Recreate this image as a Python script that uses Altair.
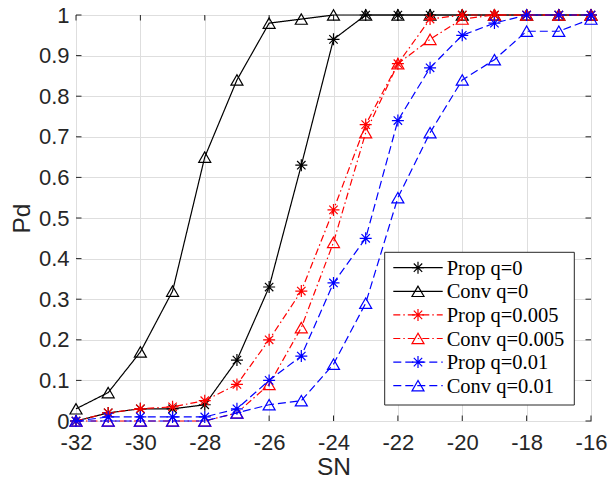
import altair as alt
import pandas as pd

# ---------------- data ----------------
sn = list(range(-32, -15))  # -32 ... -16

prop_q0 = [0, 0.02, 0.03, 0.03, 0.04, 0.15, 0.33, 0.63, 0.94, 1, 1, 1, 1, 1, 1, 1, 1]
conv_q0 = [0.03, 0.07, 0.17, 0.32, 0.65, 0.84, 0.98, 0.99, 1, 1, 1, 1, 1, 1, 1, 1, 1]
prop_q005 = [0, 0.02, 0.03, 0.035, 0.05, 0.09, 0.20, 0.32, 0.52, 0.73, 0.88, 0.99, 1, 1, 1, 1, 1]
conv_q005 = [0, 0, 0, 0, 0, 0.02, 0.09, 0.23, 0.44, 0.71, 0.88, 0.94, 0.99, 1, 1, 1, 1]
prop_q01 = [0, 0.01, 0.01, 0.01, 0.01, 0.03, 0.10, 0.16, 0.34, 0.45, 0.74, 0.87, 0.95, 0.98, 1, 1, 1]
conv_q01 = [0, 0, 0, 0, 0, 0.02, 0.04, 0.05, 0.14, 0.29, 0.55, 0.71, 0.84, 0.89, 0.96, 0.96, 0.99]

series_names = ["Prop q=0", "Conv q=0", "Prop q=0.005", "Conv q=0.005", "Prop q=0.01", "Conv q=0.01"]
series_values = [prop_q0, conv_q0, prop_q005, conv_q005, prop_q01, conv_q01]

x_ticks = [-32, -30, -28, -26, -24, -22, -20, -18, -16]
y_ticks = [0, 0.1, 0.2, 0.3, 0.4, 0.5, 0.6, 0.7, 0.8, 0.9, 1]

# ---------------- styles ----------------
STAR = "M0,-1L0,1M-1,0L1,0M-0.7,-0.7L0.7,0.7M-0.7,0.7L0.7,-0.7"
colors = ["#000000", "#000000", "#ff0000", "#ff0000", "#0000ff", "#0000ff"]
dashes = [[1, 0], [1, 0], [7, 3, 1.5, 3], [7, 3, 1.5, 3], [8, 4], [8, 4]]
shapes = [STAR, "triangle-up", STAR, "triangle-up", STAR, "triangle-up"]

W, H = 515, 406
AX = "#262626"
TICK_FONT = "Liberation Sans"
LEG_FONT = "Liberation Serif"

xscale = alt.Scale(domain=[-32, -16], nice=False, zero=False)
yscale = alt.Scale(domain=[0, 1], nice=False, zero=False)

layers = []

# base layer carrying axes and grid
frame_df = pd.DataFrame({"sn": sn, "pd": prop_q0})
axes_layer = alt.Chart(frame_df).mark_point(opacity=0).encode(
    x=alt.X("sn:Q", scale=xscale,
            axis=alt.Axis(values=x_ticks, title="SN", grid=True, ticks=False, domain=False,
                          labelExpr="'' + datum.value", labelFlush=False, labelOverlap=False,
                          labelFontSize=22, titleFontSize=24.5, labelFont=TICK_FONT,
                          titleFont=TICK_FONT, labelColor=AX, titleColor=AX,
                          labelPadding=11, titlePadding=2, titleFontWeight="normal",
                          gridColor="#dedede", gridWidth=1)),
    y=alt.Y("pd:Q", scale=yscale,
            axis=alt.Axis(values=y_ticks, title="Pd", grid=True, ticks=False, domain=False,
                          labelExpr="'' + datum.value", labelFlush=False, labelOverlap=False,
                          labelFontSize=22, titleFontSize=24.5,
                          labelFont=TICK_FONT, titleFont=TICK_FONT, labelColor=AX,
                          titleColor=AX, labelPadding=7, titlePadding=4,
                          titleFontWeight="normal", gridColor="#dedede", gridWidth=1)),
)
layers.append(axes_layer)

# inward ticks (box style)
ydf = pd.DataFrame({"v": y_ticks})
xdf = pd.DataFrame({"v": x_ticks})
tl = 5.5
for xa, xb in [(0, tl), (W - tl, W)]:
    layers.append(alt.Chart(ydf).mark_rule(color=AX, strokeWidth=1).encode(
        y=alt.Y("v:Q", scale=yscale), x=alt.value(xa), x2=alt.value(xb)))
for ya, yb in [(H - tl, H), (0, tl)]:
    layers.append(alt.Chart(xdf).mark_rule(color=AX, strokeWidth=1).encode(
        x=alt.X("v:Q", scale=xscale), y=alt.value(ya), y2=alt.value(yb)))

# data series
for name, vals, c, d, s in zip(series_names, series_values, colors, dashes, shapes):
    df = pd.DataFrame({"sn": sn, "pd": vals, "series": name})
    layers.append(alt.Chart(df).mark_line(color=c, strokeDash=d, strokeWidth=1.2, clip=False).encode(
        x=alt.X("sn:Q", scale=xscale), y=alt.Y("pd:Q", scale=yscale)))
    layers.append(alt.Chart(df).mark_point(shape=s, filled=False, color=c, size=144,
                                           strokeWidth=1.2, opacity=1, clip=False).encode(
        x=alt.X("sn:Q", scale=xscale), y=alt.Y("pd:Q", scale=yscale)))

# manual legend
box_df = pd.DataFrame({"k": [0]})
layers.append(alt.Chart(box_df).mark_rect(fill="white", stroke=AX, strokeWidth=1).encode(
    x=alt.value(308.7), x2=alt.value(498.3), y=alt.value(237.3), y2=alt.value(390)))
row0, step = 252.7, 23.6
for i, (name, c, d, s) in enumerate(zip(series_names, colors, dashes, shapes)):
    yy = row0 + i * step
    ldf = pd.DataFrame({"label": [name]})
    layers.append(alt.Chart(ldf).mark_rule(color=c, strokeDash=d, strokeWidth=1.2).encode(
        x=alt.value(317.3), x2=alt.value(366.7), y=alt.value(yy)))
    layers.append(alt.Chart(ldf).mark_point(shape=s, filled=False, color=c, size=144,
                                            strokeWidth=1.2, opacity=1).encode(
        x=alt.value(342.0), y=alt.value(yy)))
    layers.append(alt.Chart(ldf).mark_text(align="left", baseline="middle", font=LEG_FONT,
                                           fontSize=20.5, color="#000000").encode(
        x=alt.value(370.7), y=alt.value(yy + 1), text="label:N"))

chart = alt.layer(*layers).properties(
    width=W, height=H,
    autosize=alt.AutoSizeParams(type="none"),
    padding={"left": 76, "top": 15, "right": 17, "bottom": 59},
    background="white",
).configure_view(stroke=AX, strokeWidth=1)

chart.save("out.html", embed_options={"renderer": "svg", "actions": False})
